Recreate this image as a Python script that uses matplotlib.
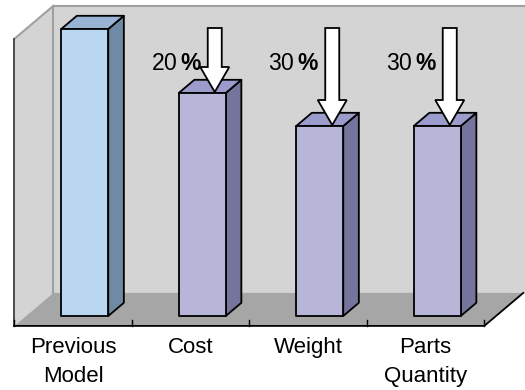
import matplotlib
matplotlib.use("Agg")
import matplotlib.pyplot as plt
from matplotlib.patches import Polygon

plt.rcParams["mathtext.fontset"] = "custom"
plt.rcParams["mathtext.rm"] = "Liberation Sans"
plt.rcParams["mathtext.bf"] = "Liberation Sans:bold"

# ---- data ----
categories = ["Previous\nModel", "Cost", "Weight", "Parts\nQuantity"]
values = [100, 77.7, 66.2, 66.2]
reductions = [None, "20", "30", "30"]
y_max = 100

# ---- layout / style ----
W, H, DPI = 525, 390, 100
fig = plt.figure(figsize=(W / DPI, H / DPI), dpi=DPI)
fig.patch.set_facecolor("white")

# axes = front plane of the bars (pixels)
ax_l, ax_b, ax_w, ax_h = 26, 74, 470, 287
ax = fig.add_axes([ax_l / W, ax_b / H, ax_w / W, ax_h / H])
n = len(categories)
ax.set_xlim(-0.5, n - 0.5)
ax.set_ylim(0, y_max)
ax.axis("off")

ux = n / ax_w          # data x per pixel
uy = y_max / ax_h      # data y per pixel

depth_px = (39, 33)    # full floor depth in pixels
def off(frac):
    return depth_px[0] * frac * ux, depth_px[1] * frac * uy

front = off(-0.30)
back = off(0.70)
bdx, bdy = off(0.40)

wall_c = "#d4d4d4"
floor_c = "#a6a6a6"
edge_gray = "#a0a0a0"

x0, x1 = -0.5, n - 0.5
# back wall
ax.add_patch(Polygon([(x0 + back[0], 0 + back[1]), (x1 + back[0] + 0.2, 0 + back[1]),
                      (x1 + back[0] + 0.2, y_max + back[1]), (x0 + back[0], y_max + back[1])],
                     closed=True, fc=wall_c, ec="none", clip_on=False, zorder=1))
ax.plot([x0 + back[0], x1 + back[0] + 0.2], [y_max + back[1]] * 2, color=edge_gray, lw=1.5,
        clip_on=False, zorder=2, solid_capstyle="butt")
ax.plot([x0 + back[0]] * 2, [back[1], y_max + back[1]], color=edge_gray, lw=1.5,
        clip_on=False, zorder=2)
# left wall
ax.add_patch(Polygon([(x0 + front[0], front[1]), (x0 + front[0], y_max + front[1]),
                      (x0 + back[0], y_max + back[1]), (x0 + back[0], back[1])],
                     closed=True, fc=wall_c, ec="none", clip_on=False, zorder=1))
ax.plot([x0 + front[0], x0 + back[0]], [y_max + front[1], y_max + back[1]],
        color=edge_gray, lw=1.5, clip_on=False, zorder=2)
ax.plot([x0 + front[0]] * 2, [front[1], y_max + front[1]], color="#404040", lw=1.3,
        clip_on=False, zorder=2)
# floor
ax.add_patch(Polygon([(x0 + front[0], front[1]), (x1 + front[0], front[1]),
                      (x1 + back[0], back[1]), (x0 + back[0], back[1])],
                     closed=True, fc=floor_c, ec="none", clip_on=False, zorder=2))
ax.plot([x0 + front[0], x1 + front[0], x1 + back[0]], [front[1], front[1], back[1]],
        color="black", lw=1.3, clip_on=False, zorder=3)
# ticks
tick_len = 6 * uy
for k in range(n + 1):
    xt = x0 + k + front[0]
    ax.plot([xt, xt], [front[1], front[1] + tick_len], color="black", lw=1.0,
            clip_on=False, zorder=3)

# bars
bw = 0.40
colors = [("#b9d7f1", "#6f8aa4", "#98b3d4")] + [("#b7b6d8", "#74749c", "#9b9bcc")] * 3
for i, v in enumerate(values):
    fc, sc, tc = colors[i]
    xl, xr = i - bw / 2, i + bw / 2
    ax.add_patch(Polygon([(xr, 0), (xr + bdx, bdy), (xr + bdx, v + bdy), (xr, v)],
                         closed=True, fc=sc, ec="black", lw=1.3, joinstyle="round",
                         clip_on=False, zorder=5))
    ax.add_patch(Polygon([(xl, v), (xr, v), (xr + bdx, v + bdy), (xl + bdx, v + bdy)],
                         closed=True, fc=tc, ec="black", lw=1.3, joinstyle="round",
                         clip_on=False, zorder=5))
    ax.add_patch(Polygon([(xl, 0), (xr, 0), (xr, v), (xl, v)],
                         closed=True, fc=fc, ec="black", lw=1.3, joinstyle="round",
                         clip_on=False, zorder=6))

# arrows + labels
shaft_hw = 7 * ux
head_hw = 14.5 * ux
head_len = 25 * uy
arrow_top = y_max + 1 * uy
for i, (v, r) in enumerate(zip(values, reductions)):
    if r is None:
        continue
    cx = i + 12.5 * ux
    tip = v + 1 * uy
    hb = tip + head_len
    pts = [(cx - shaft_hw, arrow_top), (cx + shaft_hw, arrow_top), (cx + shaft_hw, hb),
           (cx + head_hw, hb), (cx, tip), (cx - head_hw, hb), (cx - shaft_hw, hb)]
    ax.add_patch(Polygon(pts, closed=True, fc="white", ec="black", lw=1.3,
                         joinstyle="miter", clip_on=False, zorder=8))
    ly = y_max - 34 * uy
    ax.text(cx - shaft_hw - 6 * ux, ly, r + r"$\,\mathbf{\%}$", ha="right", va="center",
            fontsize=16.5, family="Liberation Sans", color="black", zorder=9)

# category labels
for i, c in enumerate(categories):
    ax.text(i + front[0], front[1] - 11 * uy, c, ha="center", va="top", fontsize=16,
            family="Liberation Sans", linespacing=1.5, color="black", clip_on=False)

fig.savefig("out.png", dpi=DPI)
